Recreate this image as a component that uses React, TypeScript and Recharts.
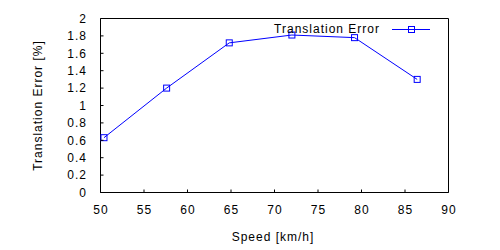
import React from 'react';
import { LineChart, Line, XAxis, YAxis, Label } from 'recharts';

const speeds = [50.4, 57.6, 64.8, 72, 79.2, 86.4];
const translationError = [0.63, 1.2, 1.72, 1.81, 1.78, 1.3];

const xTicks = [50, 55, 60, 65, 70, 75, 80, 85, 90];
const yTicks = [0, 0.2, 0.4, 0.6, 0.8, 1, 1.2, 1.4, 1.6, 1.8, 2];

const data = speeds.map((speed, i) => ({ speed, error: translationError[i] }));

const FONT = '"Liberation Sans", Arial, Helvetica, sans-serif';
const BLUE = '#0000ff';
const TICK_LEN = 3;

const frame = { stroke: '#000', strokeWidth: 1 };
const textProps = { fontSize: 12, fontFamily: FONT, letterSpacing: 1, fill: '#000' };

// gnuplot style ticks: short marks pointing into the plot, labels outside
const BottomTick = ({ x, y, payload }: any) => (
  <g>
    <line x1={x} x2={x} y1={y} y2={y - TICK_LEN} {...frame} />
    <text x={x + 0.5} y={y + 21.5} textAnchor="middle" {...textProps}>
      {payload.value}
    </text>
  </g>
);

const LeftTick = ({ x, y, payload }: any) => (
  <g>
    <line x1={x} x2={x + TICK_LEN} y1={y} y2={y} {...frame} />
    <text x={x - 13.5} y={y + 4.3} textAnchor="end" {...textProps}>
      {payload.value}
    </text>
  </g>
);

const TopTick = ({ x, y }: any) => <line x1={x} x2={x} y1={y} y2={y + TICK_LEN} {...frame} />;

const RightTick = ({ x, y }: any) => <line x1={x} x2={x - TICK_LEN} y1={y} y2={y} {...frame} />;

const SquareDot = (props: any) => {
  const { cx, cy, index } = props;
  if (cx == null || cy == null) return null;
  return (
    <rect
      key={`dot-${index}`}
      x={cx - 3}
      y={cy - 3}
      width={6}
      height={6}
      fill="none"
      stroke={BLUE}
      strokeWidth={1}
    />
  );
};

const LegendBox = () => (
  <svg width={180} height={20} style={{ display: 'block', overflow: 'visible' }}>
    <text x={120} y={13} textAnchor="end" {...textProps}>
      Translation Error
    </text>
    <line x1={132} x2={170} y1={9.5} y2={9.5} stroke={BLUE} strokeWidth={1} />
    <rect x={148.5} y={6.5} width={6} height={6} fill="none" stroke={BLUE} strokeWidth={1} />
  </svg>
);

const App = () => {
  return (
    <div style={{ position: 'absolute', left: 0, top: 0, width: 500, height: 250 }}>
      <LineChart
        width={500}
        height={250}
        data={data}
        margin={{ top: 17.5, right: 50.5, left: 0.5, bottom: 0 }}
      >
        <XAxis
          dataKey="speed"
          type="number"
          domain={[50, 90]}
          ticks={xTicks}
          interval={0}
          height={57.5}
          axisLine={frame}
          tickLine={false}
          tickSize={0}
          tickMargin={0}
          tick={BottomTick}
        >
          <Label
            content={({ viewBox }: any) => (
              <text x={viewBox.x + viewBox.width / 2 - 1.5} y={241} textAnchor="middle" {...textProps}>
                Speed [km/h]
              </text>
            )}
          />
        </XAxis>
        <XAxis
          xAxisId="top"
          orientation="top"
          type="number"
          domain={[50, 90]}
          ticks={xTicks}
          interval={0}
          height={1}
          axisLine={frame}
          tickLine={false}
          tickSize={0}
          tickMargin={0}
          tick={TopTick}
        />
        <YAxis
          type="number"
          domain={[0, 2]}
          ticks={yTicks}
          interval={0}
          width={100}
          axisLine={frame}
          tickLine={false}
          tickSize={0}
          tickMargin={0}
          tick={LeftTick}
        >
          <Label
            content={({ viewBox }: any) => {
              const cy = viewBox.y + viewBox.height / 2;
              return (
                <text x={42} y={cy} transform={`rotate(-90 42 ${cy})`} textAnchor="middle" {...textProps}>
                  Translation Error [%]
                </text>
              );
            }}
          />
        </YAxis>
        <YAxis
          yAxisId="right"
          orientation="right"
          type="number"
          domain={[0, 2]}
          ticks={yTicks}
          interval={0}
          width={1}
          axisLine={frame}
          tickLine={false}
          tickSize={0}
          tickMargin={0}
          tick={RightTick}
        />
        <Line
          dataKey="error"
          stroke={BLUE}
          strokeWidth={1}
          dot={SquareDot}
          activeDot={false}
          isAnimationActive={false}
        />
      </LineChart>
      <div style={{ position: 'absolute', left: 260, top: 20 }}>
        <LegendBox />
      </div>
    </div>
  );
};

export default App;
